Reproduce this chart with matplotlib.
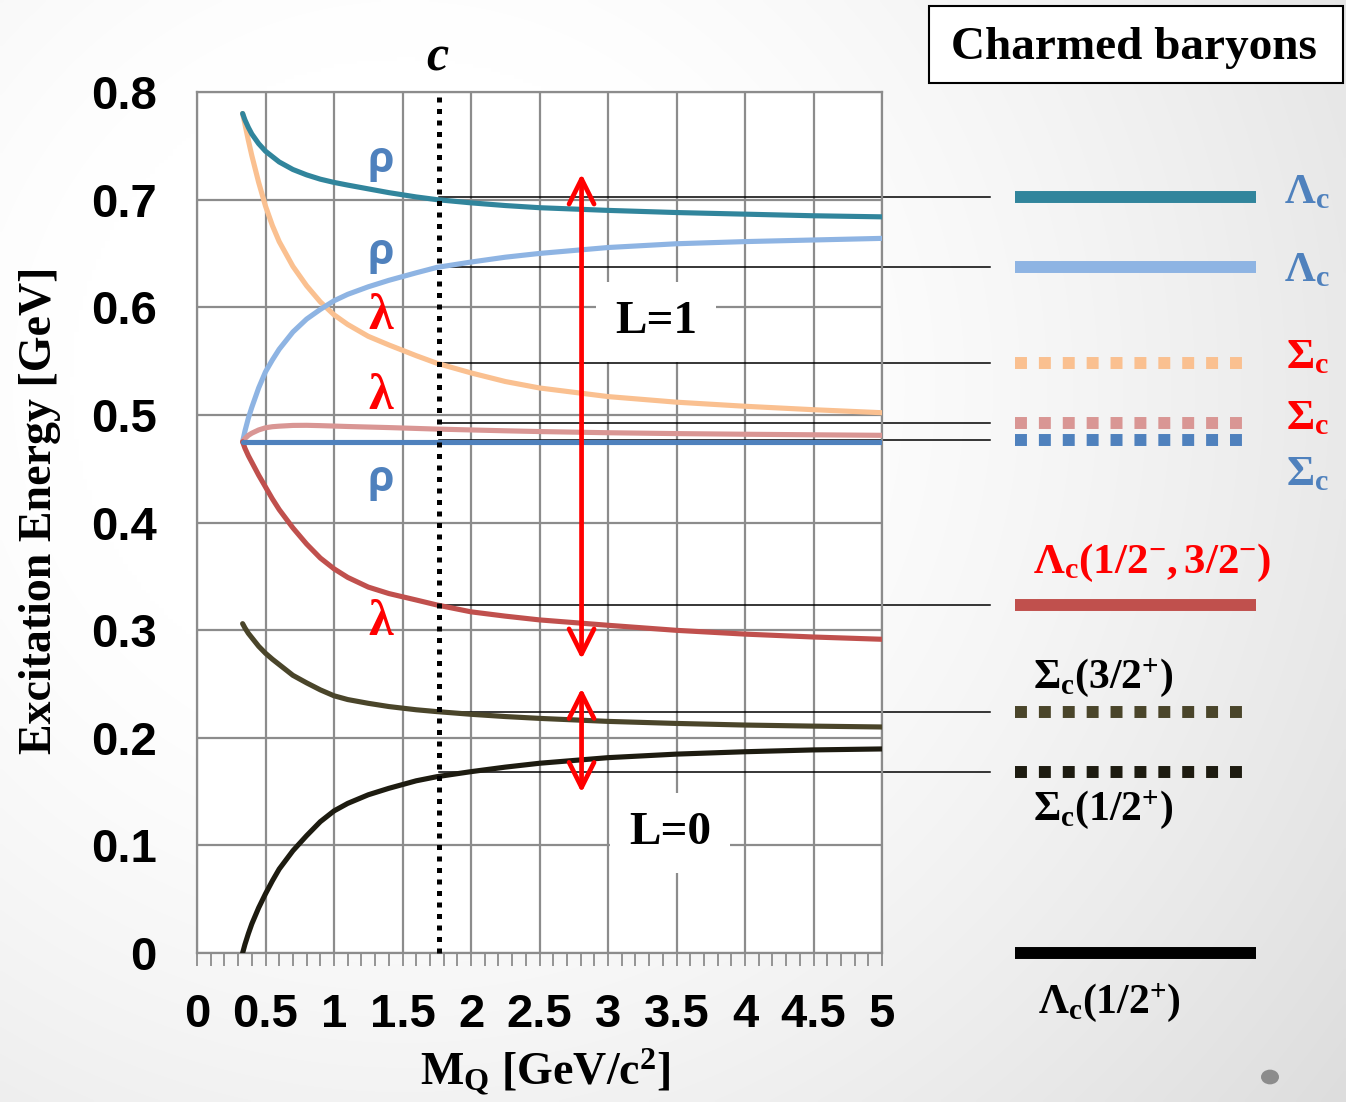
import numpy as np
import matplotlib
matplotlib.use("Agg")
import matplotlib.pyplot as plt
from matplotlib.patches import Rectangle, Circle

plt.rcParams['mathtext.fontset'] = 'custom'
plt.rcParams['mathtext.rm'] = 'Liberation Serif'
plt.rcParams['mathtext.bf'] = 'Liberation Serif:bold'
plt.rcParams['mathtext.it'] = 'Liberation Serif:italic:bold'

# ---------------- data ----------------
mq = [0.333, 0.35, 0.375, 0.4, 0.45, 0.5, 0.55, 0.6, 0.7, 0.8, 0.9, 1.0, 1.1, 1.25,
      1.4, 1.6, 1.75, 2.0, 2.25, 2.5, 3.0, 3.5, 4.0, 4.5, 5.0]
lam_rho_hi = [0.780, 0.774, 0.767, 0.761, 0.752, 0.745, 0.740, 0.735, 0.728, 0.723,
              0.719, 0.716, 0.7135, 0.710, 0.7065, 0.7025, 0.700, 0.697, 0.6945, 0.6925,
              0.690, 0.688, 0.6865, 0.685, 0.684]
lam_rho_lo = [0.475, 0.485, 0.497, 0.507, 0.525, 0.540, 0.551, 0.561, 0.577, 0.589,
              0.598, 0.606, 0.612, 0.619, 0.625, 0.632, 0.637, 0.642, 0.6465, 0.650,
              0.6555, 0.659, 0.661, 0.6625, 0.664]
sig_lam_hi = [0.780, 0.770, 0.755, 0.741, 0.716, 0.694, 0.676, 0.661, 0.638, 0.620,
              0.605, 0.593, 0.584, 0.573, 0.565, 0.555, 0.548, 0.539, 0.531, 0.525,
              0.517, 0.5118, 0.508, 0.5048, 0.502]
sig_lam_mid = [0.475, 0.478, 0.481, 0.483, 0.486, 0.488, 0.489, 0.4895, 0.4902, 0.4903,
               0.490, 0.4896, 0.4892, 0.4887, 0.4882, 0.4874, 0.4868, 0.486, 0.4852, 0.4845,
               0.4834, 0.4826, 0.482, 0.4815, 0.481]
sig_rho_x = [0.333, 5.0]
sig_rho = [0.475, 0.475]
lam_lam = [0.475, 0.469, 0.462, 0.456, 0.444, 0.433, 0.422, 0.412, 0.395, 0.380,
           0.367, 0.357, 0.349, 0.340, 0.334, 0.328, 0.3234, 0.317, 0.313, 0.3095,
           0.3045, 0.2998, 0.2963, 0.2936, 0.2915]
sig_32 = [0.306, 0.302, 0.297, 0.293, 0.285, 0.2785, 0.273, 0.268, 0.258, 0.251,
          0.2445, 0.239, 0.2355, 0.232, 0.229, 0.226, 0.2243, 0.2218, 0.2197, 0.218,
          0.2152, 0.2133, 0.2118, 0.2108, 0.210]
sig_12 = [0.0, 0.008, 0.018, 0.027, 0.042, 0.055, 0.067, 0.078, 0.095, 0.109,
          0.122, 0.132, 0.139, 0.147, 0.153, 0.160, 0.1638, 0.1685, 0.1727, 0.1763,
          0.1815, 0.1848, 0.187, 0.1887, 0.1896]

m_charm = 1.77
# levels at charm mass (right-hand spectrum)
level_values = [0.702, 0.637, 0.548, 0.492, 0.477, 0.3234, 0.2243, 0.168, 0.0]
level_colors = ['#31859C', '#8EB4E3', '#FAC090', '#D99694', '#4F81BD',
                '#C0504D', '#4A452A', '#1D1B10', '#000000']
level_dotted = [False, False, True, True, True, False, True, True, False]

curve_colors = {'lam_rho_hi': '#31859C', 'lam_rho_lo': '#8EB4E3', 'sig_lam_hi': '#FAC090',
                'sig_lam_mid': '#D99694', 'sig_rho': '#4F81BD', 'lam_lam': '#C0504D',
                'sig_32': '#4A452A', 'sig_12': '#1D1B10'}

xticks = [0, 0.5, 1, 1.5, 2, 2.5, 3, 3.5, 4, 4.5, 5]
xticklabels = ['0', '0.5', '1', '1.5', '2', '2.5', '3', '3.5', '4', '4.5', '5']
yticks = [0, 0.1, 0.2, 0.3, 0.4, 0.5, 0.6, 0.7, 0.8]
yticklabels = ['0', '0.1', '0.2', '0.3', '0.4', '0.5', '0.6', '0.7', '0.8']

# ---------------- figure ----------------
W, H = 1346, 1102
fig = plt.figure(figsize=(W / 100, H / 100), dpi=100)

# slide background gradient
bg = fig.add_axes([0, 0, 1, 1], zorder=-10)
gx, gy = np.meshgrid(np.linspace(0, 1, 300), np.linspace(0, 1, 300))
dist = np.sqrt(((gx - 0.3) / 1.0) ** 2 + ((gy - 0.35) / 1.2) ** 2)
val = 1 - 0.24 * np.clip(dist - 0.25, 0, None) ** 1.3
bg.imshow(np.dstack([val, val, val]), extent=[0, 1, 0, 1], origin='upper',
          aspect='auto', interpolation='bilinear')
bg.set_xlim(0, 1); bg.set_ylim(0, 1)
bg.axis('off')

def px_to_fig(x0, y0):
    return x0 / W, 1 - y0 / H

ax_l, ax_r, ax_t, ax_b = 197, 882, 92, 953
ax = fig.add_axes([ax_l / W, 1 - ax_b / H, (ax_r - ax_l) / W, (ax_b - ax_t) / H])
ax.set_facecolor('white')
ax.set_xlim(0, 5)
ax.set_ylim(0, 0.8)

grid_c = '#8c8c8c'
ax.set_xticks(xticks)
ax.set_xticklabels(xticklabels)
ax.set_xticks(np.arange(0, 5.001, 0.1), minor=True)
ax.set_yticks(yticks)
ax.set_yticklabels(yticklabels)
ax.grid(which='major', color=grid_c, lw=1.6, zorder=0)
ax.set_axisbelow(True)
for s in ax.spines.values():
    s.set_color(grid_c)
    s.set_linewidth(1.6)
ax.tick_params(axis='x', which='both', direction='out', length=9, width=1.3,
               color=grid_c, pad=20)
ax.tick_params(axis='y', which='both', length=0, pad=29)
for lab in ax.get_xticklabels() + ax.get_yticklabels():
    lab.set_fontfamily('Liberation Sans')
    lab.set_fontweight('bold')
    lab.set_fontsize(34)

# curves
lw_curve = 3.7
kw = dict(lw=lw_curve, solid_capstyle='round', solid_joinstyle='round')
ax.plot(mq, lam_rho_hi, color=curve_colors['lam_rho_hi'], zorder=4, **kw)
ax.plot(mq, sig_lam_hi, color=curve_colors['sig_lam_hi'], zorder=3, **kw)
ax.plot(mq, lam_rho_lo, color=curve_colors['lam_rho_lo'], zorder=4, **kw)
ax.plot(mq, sig_lam_mid, color=curve_colors['sig_lam_mid'], zorder=4, **kw)
ax.plot(sig_rho_x, sig_rho, color=curve_colors['sig_rho'], zorder=5, **kw)
ax.plot(mq, lam_lam, color=curve_colors['lam_lam'], zorder=4, **kw)
ax.plot(mq, sig_32, color=curve_colors['sig_32'], zorder=4, **kw)
ax.plot(mq, sig_12, color=curve_colors['sig_12'], zorder=4, **kw)

# charm-mass dotted line
ax.plot([m_charm, m_charm], [0, 0.8], color='black', lw=3.6,
        linestyle=(0, (1, 1.3)), dash_capstyle='butt', zorder=6, clip_on=False)

# connecting lines and level bars
x_line_end = (990 - ax_l) / 137.0
x_bar0 = (1015 - ax_l) / 137.0
x_bar1 = (1256 - ax_l) / 137.0
x_dot1 = (1246 - ax_l) / 137.0
for v, c, d in zip(level_values, level_colors, level_dotted):
    if v > 0:
        ax.plot([m_charm, x_line_end], [v, v], color='black', lw=1.1, zorder=2.5, clip_on=False)
    if d:
        ax.plot([x_bar0, x_dot1], [v, v], color=c, lw=8.6, linestyle=(0, (1, 1)),
                dash_capstyle='butt', clip_on=False)
    else:
        ax.plot([x_bar0, x_bar1], [v, v], color=c, lw=8.6, solid_capstyle='butt', clip_on=False)

# arrows
astyle = '<->,head_length=1.8,head_width=0.9'
ax.annotate('', xy=(2.807, 0.724), xytext=(2.807, 0.273),
            arrowprops=dict(arrowstyle=astyle, color='red',
                            lw=3.4, shrinkA=0, shrinkB=0, mutation_scale=10), zorder=7)
ax.annotate('', xy=(2.807, 0.246), xytext=(2.807, 0.149),
            arrowprops=dict(arrowstyle=astyle, color='red',
                            lw=3.4, shrinkA=0, shrinkB=0, mutation_scale=10), zorder=7)

# L labels
for txt, xx, yy in [('L=1', 3.35, 0.5864), ('L=0', 3.453, 0.1115)]:
    ax.text(xx, yy, txt, fontsize=34, fontfamily='Liberation Serif', fontweight='bold',
            ha='center', va='center', zorder=3,
            bbox=dict(boxstyle='square,pad=0.4', fc='white', ec='none'))

# rho / lambda labels
rho_c = '#4F81BD'
for yy in [0.736, 0.651, 0.440]:
    ax.text(1.343, yy, 'ρ', fontsize=31, fontfamily='Open Sans', fontweight='bold',
            color=rho_c, ha='center', va='center', zorder=8)
for yy in [0.5906, 0.517, 0.307]:
    ax.text(1.343, yy, 'λ', fontsize=36, fontfamily='Liberation Serif', fontweight='bold',
            color='red', ha='center', va='center', zorder=8)

# c label
ax.text(1.759, 0.8336, r'$\mathit{c}$', fontsize=36, ha='center', va='center', clip_on=False)

# right-hand labels
fs_r = 31
ax.text(7.934, 0.697, r'$\mathbf{\Lambda_c}$', color=rho_c, fontsize=fs_r, ha='left', va='baseline')
ax.text(7.934, 0.624, r'$\mathbf{\Lambda_c}$', color=rho_c, fontsize=fs_r, ha='left', va='baseline')
ax.text(7.95, 0.5437, r'$\mathbf{\Sigma_c}$', color='red', fontsize=fs_r, ha='left', va='baseline')
ax.text(7.95, 0.487, r'$\mathbf{\Sigma_c}$', color='red', fontsize=fs_r, ha='left', va='baseline')
ax.text(7.95, 0.435, r'$\mathbf{\Sigma_c}$', color=rho_c, fontsize=fs_r, ha='left', va='baseline')
ax.text(6.102, 0.353, r'$\mathbf{\Lambda_c(1/2^{-},3/2^{-})}$', color='red', fontsize=fs_r,
        ha='left', va='baseline')
ax.text(6.102, 0.2463, r'$\mathbf{\Sigma_c(3/2^{+})}$', color='black', fontsize=30,
        ha='left', va='baseline')
ax.text(6.102, 0.1236, r'$\mathbf{\Sigma_c(1/2^{+})}$', color='black', fontsize=30,
        ha='left', va='baseline')
ax.text(6.139, -0.0558, r'$\mathbf{\Lambda_c(1/2^{+})}$', color='black', fontsize=30,
        ha='left', va='baseline')

# axis titles
ax.text(-0.229, 0.514, 'Excitation Energy [GeV]', transform=ax.transAxes, rotation=90,
        fontsize=33, fontfamily='Liberation Serif', fontweight='bold', ha='center', va='center')
ax.text(0.508, -0.138, r'$\mathbf{M_Q\ [GeV/c^2]}$', transform=ax.transAxes,
        fontsize=33, ha='center', va='center')

# title box
bx0, by0 = px_to_fig(929, 83)
fig.patches.append(Rectangle((bx0, by0), (1343 - 929) / W, 77 / H, transform=fig.transFigure,
                             fc='white', ec='black', lw=1.5, zorder=1))
tx, ty = px_to_fig(1134, 48)
fig.text(tx, ty, 'Charmed baryons', fontsize=34, fontfamily='Liberation Serif',
         fontweight='bold', ha='center', va='center', zorder=2)

# slide page dot
dx, dy = px_to_fig(1270, 1077)
fig.patches.append(Circle((dx, dy), 9 / W, transform=fig.transFigure, fc='#8c8c8c', ec='none'))

fig.savefig('out.png', dpi=100)
